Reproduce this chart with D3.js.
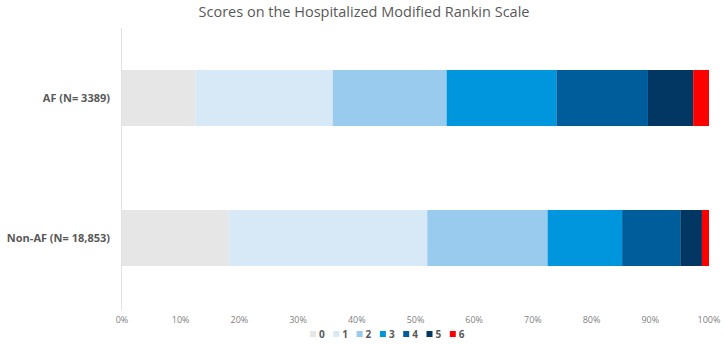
<!DOCTYPE html>
<html>
<head>
<meta charset="utf-8">
<script src="https://cdn.jsdelivr.net/npm/d3@7"></script>
<style>
  body { margin: 0; background: #fff; font-family: "Open Sans", sans-serif; }
</style>
</head>
<body>
<div id="chart"></div>
<script>
// Data
const groups = ['AF (N= 3389)', 'Non-AF (N= 18,853)'];
const scores = ['0', '1', '2', '3', '4', '5', '6'];
const afValues = [12.5, 23.4, 19.4, 18.7, 15.6, 7.7, 2.7];
const nonAfValues = [18.2, 33.8, 20.5, 12.7, 9.9, 3.7, 1.2];
const colors = ['#e7e6e6', '#d7e9f7', '#98cbee', '#0096dd', '#005d9b', '#033763', '#ff0000'];
const xTicks = [0, 10, 20, 30, 40, 50, 60, 70, 80, 90, 100];

const width = 725;
const height = 344;
const margin = { top: 28, right: 16, bottom: 36, left: 122 };

const svg = d3.select('#chart')
  .append('svg')
  .attr('width', width)
  .attr('height', height);

const x = d3.scaleLinear()
  .domain([0, 100])
  .range([margin.left, width - margin.right]);

const y = d3.scaleBand()
  .domain(groups)
  .range([margin.top, height - margin.bottom])
  .paddingInner(0.6)
  .paddingOuter(0.3);

// Stack the rows
const rows = [afValues, nonAfValues].map((vals, i) => {
  let acc = 0;
  return vals.map((v, j) => {
    const seg = { group: groups[i], score: j, x0: acc, x1: acc + v };
    acc += v;
    return seg;
  });
});

svg.append('g')
  .selectAll('rect')
  .data(rows.flat())
  .enter().append('rect')
  .attr('x', d => x(d.x0))
  .attr('width', d => x(d.x1) - x(d.x0))
  .attr('y', d => y(d.group))
  .attr('height', y.bandwidth())
  .attr('fill', d => colors[d.score]);

// Vertical axis line
svg.append('line')
  .attr('x1', x(0) - 0.5)
  .attr('x2', x(0) - 0.5)
  .attr('y1', margin.top)
  .attr('y2', height - margin.bottom + 2)
  .attr('stroke', '#e3e3e3');

// Category labels
svg.append('g')
  .selectAll('text')
  .data(groups)
  .enter().append('text')
  .attr('x', x(0) - 12)
  .attr('y', d => y(d) + y.bandwidth() / 2)
  .attr('dy', '0.35em')
  .attr('text-anchor', 'end')
  .attr('font-size', 11)
  .attr('font-weight', 'bold')
  .attr('fill', '#595959')
  .text(d => d);

// X tick labels
svg.append('g')
  .selectAll('text')
  .data(xTicks)
  .enter().append('text')
  .attr('x', d => x(d))
  .attr('y', 323)
  .attr('text-anchor', 'middle')
  .attr('font-size', 9)
  .attr('fill', '#7f7f7f')
  .text(d => d + '%');

// Title
svg.append('text')
  .attr('x', 364)
  .attr('y', 17)
  .attr('text-anchor', 'middle')
  .attr('font-size', 14.5)
  .attr('fill', '#595959')
  .text('Scores on the Hospitalized Modified Rankin Scale');

// Legend
const legend = svg.append('g')
  .selectAll('g')
  .data(scores)
  .enter().append('g')
  .attr('transform', (d, i) => `translate(${310 + i * 23.3},331)`);

legend.append('rect')
  .attr('width', 6)
  .attr('height', 6)
  .attr('fill', (d, i) => colors[i]);

legend.append('text')
  .attr('x', 9)
  .attr('y', 7)
  .attr('font-size', 10)
  .attr('font-weight', 'bold')
  .attr('fill', '#595959')
  .text(d => d);
</script>
</body>
</html>
